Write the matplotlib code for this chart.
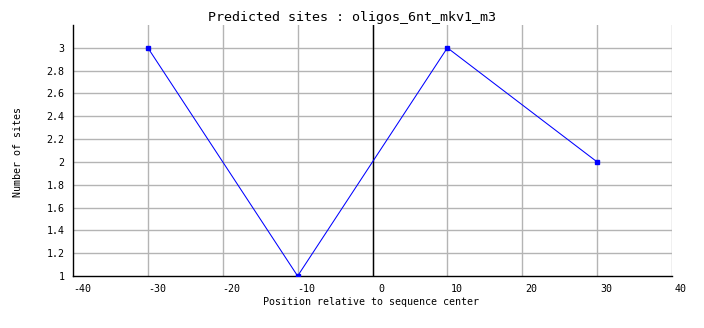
import matplotlib
matplotlib.use("Agg")
import matplotlib.pyplot as plt
import matplotlib.transforms as mtransforms
import numpy as np

# data
positions = [-30, -10, 10, 30]
n_sites = [3, 1, 3, 2]
x_ticks = [-40, -30, -20, -10, 0, 10, 20, 30, 40]
y_ticks = [1, 1.2, 1.4, 1.6, 1.8, 2, 2.2, 2.4, 2.6, 2.8, 3]

mono = "DejaVu Sans Mono"

fig = plt.figure(figsize=(7.04, 3.28), dpi=100)
ax = fig.add_axes([73 / 704, 1 - 276 / 328, 599 / 704, 251 / 328])

ax.set_xlim(-40, 40)
ax.set_ylim(1, 3.2)

# grid
for xv in x_ticks[1:]:
    ax.axvline(xv, color="#b4b4b4", lw=1, zorder=1)
for yv in y_ticks[1:]:
    ax.axhline(yv, color="#b4b4b4", lw=1, zorder=1)

# center line
ax.axvline(0, color="black", lw=1, zorder=2)

ax.plot(positions, n_sites, color="blue", lw=0.75, marker="s", ms=2.2,
        mec="blue", mfc="blue", zorder=3)

for s in ["top", "right"]:
    ax.spines[s].set_visible(False)
for s in ["left", "bottom"]:
    ax.spines[s].set_color("black")
    ax.spines[s].set_linewidth(1)

ax.set_xticks(x_ticks)
ax.set_xticklabels([str(v) for v in x_ticks], fontsize=7.2, family=mono)
ax.set_yticks(y_ticks)
ax.set_yticklabels(["%g" % v for v in y_ticks], fontsize=7.2, family=mono)
ax.tick_params(length=0, pad=6)

# x labels sit a bit right of their grid lines
shift = mtransforms.ScaledTranslation(9 / 100, 0, fig.dpi_scale_trans)
for lab in ax.get_xticklabels():
    lab.set_transform(lab.get_transform() + shift)

fig.text(352 / 704, 1 - 18 / 328, "Predicted sites : oligos_6nt_mkv1_m3",
         ha="center", va="center", fontsize=9.6, family=mono)
fig.text(371 / 704, 1 - 302 / 328, "Position relative to sequence center",
         ha="center", va="center", fontsize=7.2, family=mono)
fig.text(18 / 704, 1 - 152 / 328, "Number of sites", rotation=90,
         ha="center", va="center", fontsize=7.2, family=mono)

fig.savefig("out.png", dpi=100)
